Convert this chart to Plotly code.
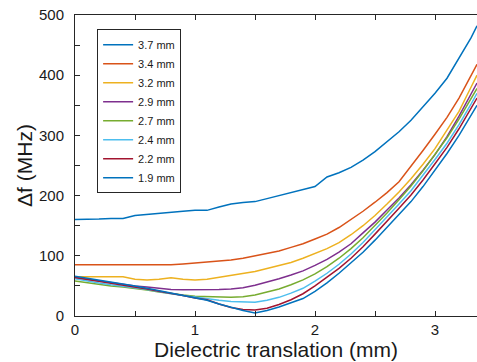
import plotly.graph_objects as go

# Dielectric translation (mm)
x_mm = [0.0, 0.1, 0.2, 0.3, 0.4, 0.5, 0.6, 0.7, 0.8, 0.9, 1.0, 1.1, 1.2, 1.3, 1.4,
        1.5, 1.6, 1.7, 1.8, 1.9, 2.0, 2.1, 2.2, 2.3, 2.4, 2.5, 2.6, 2.7, 2.8, 2.9,
        3.0, 3.1, 3.2, 3.3, 3.35]

# Frequency shift (MHz) for each gap size
df_37 = [160.5, 160.5, 161, 162, 162, 167, 169, 171, 172.5, 174, 175.5, 175.5, 181, 186, 188.5,
         190, 195, 200, 205, 210, 215, 231, 238, 247, 259, 273, 290, 306, 325, 348,
         370, 395, 428, 462, 482]
df_34 = [85, 85, 85, 85, 85, 85, 85, 85, 85, 86.5, 88, 90, 91, 93, 96,
         100, 104, 108, 114, 120, 128, 136, 147, 160, 174, 189, 205, 223, 248, 275,
         302, 330, 362, 398, 418]
df_32 = [65, 65, 65, 65, 65, 61, 60, 61, 63.5, 61, 60, 61, 64, 67, 70,
         74, 79, 84, 89, 96, 104, 112, 122, 135, 150, 167, 186, 206, 228, 252,
         278, 308, 340, 380, 400]
df_29 = [64, 61, 58, 55, 52, 50, 48, 46, 44, 43.5, 43.5, 43.5, 44, 45, 47,
         51, 56, 62, 68, 75, 84, 94, 106, 120, 138, 156, 176, 196, 218, 242,
         268, 298, 332, 370, 387]
df_27 = [58, 55, 52, 50, 48, 46, 43, 40, 37, 35, 33, 32, 31, 31, 32,
         35, 40, 45, 52, 60, 70, 82, 96, 112, 130, 150, 171, 193, 216, 241,
         268, 296, 327, 360, 378]
df_24 = [62, 58, 55, 52, 50, 47, 44, 40, 37, 34, 31, 28, 26, 24, 23,
         23, 26, 31, 38, 46, 58, 71, 86, 103, 122, 143, 164, 186, 208, 233,
         260, 287, 318, 352, 370]
df_22 = [64, 61, 58, 55, 52, 49, 45, 41, 38, 34, 30, 27, 20, 14, 11,
         10, 13, 19, 27, 37, 50, 64, 79, 96, 115, 136, 157, 179, 201, 226,
         253, 280, 311, 344, 362]
df_19 = [66, 63, 60, 57, 54, 50, 46, 42, 38, 34, 30, 26, 20, 14, 9,
         5, 9, 15, 22, 29, 41, 55, 71, 88, 106, 126, 147, 168, 190, 215,
         242, 270, 300, 332, 350]

labels = ["3.7 mm", "3.4 mm", "3.2 mm", "2.9 mm", "2.7 mm", "2.4 mm", "2.2 mm", "1.9 mm"]
series = [df_37, df_34, df_32, df_29, df_27, df_24, df_22, df_19]
colors = ["#0072BD", "#D95319", "#EDB120", "#7E2F8E", "#77AC30", "#4DBEEE", "#A2142F", "#0072BD"]

FONT = "Liberation Sans, Arial, sans-serif"
INK = "#262626"

fig = go.Figure()
for name, ys, col in zip(labels, series, colors):
    fig.add_trace(go.Scatter(x=x_mm, y=ys, mode="lines", name=name,
                             line=dict(color=col, width=1.5)))

axis_common = dict(
    showgrid=False, zeroline=False, showline=True, linecolor=INK, linewidth=1,
    ticks="inside", ticklen=5, tickwidth=1, tickcolor=INK,
    tickfont=dict(family=FONT, size=15, color="#1a1a1a"),
)

fig.update_layout(
    width=477, height=362,
    margin=dict(l=75, r=0, t=15, b=46),
    paper_bgcolor="white", plot_bgcolor="white",
    font=dict(family=FONT, color="#1a1a1a"),
    xaxis=dict(
        range=[0, 3.35], tickvals=[0, 1, 2, 3], mirror="ticks",
        minor=dict(dtick=0.5, ticks="inside", ticklen=5, tickcolor=INK),
        title=dict(text="Dielectric translation (mm)", font=dict(family=FONT, size=21),
                   standoff=2),
        **axis_common,
    ),
    yaxis=dict(
        range=[0, 500], dtick=100, mirror=False, ticklabelstandoff=7,
        minor=dict(dtick=50, ticks="inside", ticklen=5, tickcolor=INK),
        title=dict(text="Δf (MHz)", font=dict(family=FONT, size=21), standoff=0),
        **axis_common,
    ),
    legend=dict(
        x=0.055, y=0.953, xanchor="left", yanchor="top",
        bgcolor="white", bordercolor=INK, borderwidth=1,
        font=dict(family=FONT, size=11, color="#1a1a1a"),
        itemwidth=30,
    ),
    showlegend=True,
)

fig.write_html("out.html")
